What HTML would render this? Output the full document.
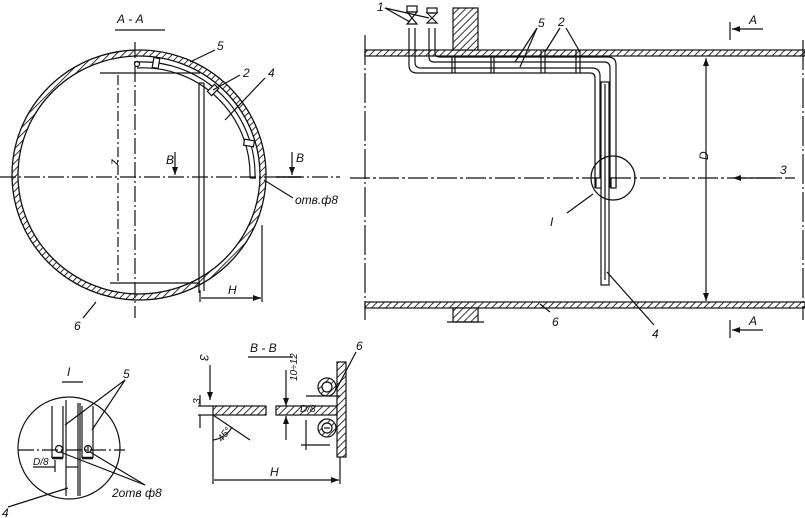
<!DOCTYPE html>
<html><head><meta charset="utf-8"><style>
html,body{margin:0;padding:0;background:#fff;}
svg{display:block;}
text{font-family:"Liberation Sans",sans-serif;font-style:italic;font-size:12px;fill:#111;}
</style></head><body>
<svg width="805" height="518" viewBox="0 0 805 518" xmlns="http://www.w3.org/2000/svg">
<defs>
<pattern id="h" width="5" height="5" patternUnits="userSpaceOnUse" patternTransform="rotate(45)">
<rect width="5" height="5" fill="#fff"/><line x1="0" y1="0" x2="0" y2="5" stroke="#111" stroke-width="1.7"/>
</pattern>
<marker id="ar" markerWidth="8" markerHeight="6" refX="8" refY="3" orient="auto" markerUnits="userSpaceOnUse"><path d="M0,0 L8,3 L0,6 Z" fill="#111"/></marker>
</defs>
<g stroke="#111" fill="none" stroke-width="1.2">
<!-- ===== A-A section ===== -->
<text x="117" y="23" stroke="none">А - А</text>
<line x1="115" y1="30" x2="165" y2="30"/>
<ellipse cx="139" cy="175" rx="127" ry="125" fill="url(#h)" stroke-width="1.3"/>
<ellipse cx="139" cy="175" rx="121" ry="119" fill="#fff" stroke-width="1.3"/>
<path d="M137,62 A113,113 0 0 1 255,178"/>
<path d="M137,68 A107,107 0 0 1 250,178"/>
<line x1="250" y1="178" x2="256" y2="178"/>
<circle cx="137" cy="64" r="2.5"/>
<rect x="153" y="58" width="6" height="10" transform="rotate(10 156 63)" fill="#fff"/>
<rect x="210" y="85" width="6" height="10" transform="rotate(45 213 90)" fill="#fff"/>
<rect x="244" y="140" width="10" height="6" transform="rotate(10 249 143)" fill="#fff"/>
<line x1="199" y1="83" x2="199" y2="293"/>
<line x1="204" y1="83" x2="204" y2="291"/>
<line x1="199" y1="83" x2="204" y2="83"/>
<line x1="0" y1="177" x2="340" y2="177" stroke-dasharray="16,3,2,3"/>
<line x1="135" y1="42" x2="135" y2="318" stroke-dasharray="16,3,2,3"/>
<line x1="100" y1="73" x2="200" y2="73"/>
<line x1="110" y1="283" x2="200" y2="283"/>
<line x1="118" y1="75" x2="118" y2="281" stroke-dasharray="10,3,2,3"/>
<text x="112" y="165" stroke="none" transform="rotate(-90 115 162)">z</text>
<line x1="200" y1="290" x2="200" y2="302"/>
<line x1="262" y1="225" x2="262" y2="302"/>
<line x1="201" y1="298" x2="261" y2="298" marker-end="url(#ar)"/>
<text x="228" y="294" stroke="none">H</text>
<line x1="175" y1="152" x2="175" y2="175" marker-end="url(#ar)"/>
<text x="166" y="164" stroke="none">B</text>
<line x1="292" y1="152" x2="292" y2="175" marker-end="url(#ar)"/>
<line x1="276" y1="177" x2="301" y2="177" stroke-width="1.5"/>
<text x="296" y="162" stroke="none">B</text>
<line x1="190" y1="62" x2="215" y2="50"/><text x="217" y="50" stroke="none">5</text>
<line x1="213" y1="90" x2="240" y2="75"/><text x="243" y="77" stroke="none">2</text>
<line x1="225" y1="120" x2="265" y2="78"/><text x="268" y="77" stroke="none">4</text>
<line x1="264" y1="180" x2="293" y2="198"/><text x="295" y="204" stroke="none">отв.ф8</text>
<line x1="83" y1="318" x2="96" y2="302"/><text x="74" y="330" stroke="none">6</text>

<!-- ===== Longitudinal view ===== -->
<rect x="365" y="50" width="440" height="6" fill="url(#h)"/>
<rect x="365" y="302" width="440" height="6" fill="url(#h)"/>
<line x1="365" y1="35" x2="365" y2="320" stroke-dasharray="30,3,2,3"/>
<line x1="803" y1="40" x2="803" y2="320" stroke-dasharray="30,3,2,3"/>
<line x1="350" y1="178" x2="795" y2="178" stroke-dasharray="20,3,3,3"/>
<rect x="453" y="8" width="25" height="42" fill="url(#h)"/>
<rect x="453" y="308" width="25" height="14" fill="url(#h)"/>
<line x1="447" y1="322" x2="484" y2="322"/>
<path d="M409,28 V65 Q409,73 417,73 H590 Q595,73 595,78 V188"/>
<path d="M415,28 V62 Q415,68 421,68 H592 Q600,68 600,76 V188"/>
<path d="M429,28 V57 Q429,62 434,62 H604 Q610,62 610,68 V188"/>
<path d="M435,28 V53 Q435,57 440,57 H608 Q616,57 616,65 V188"/>
<rect x="601" y="82" width="8" height="203" fill="#fff"/>
<line x1="605" y1="84" x2="605" y2="280"/>
<rect x="596" y="178" width="5" height="10" fill="#fff"/>
<rect x="611" y="178" width="5" height="10" fill="#fff"/>
<line x1="452" y1="57" x2="452" y2="73"/><line x1="455" y1="57" x2="455" y2="73"/>
<line x1="491" y1="57" x2="491" y2="73"/><line x1="494" y1="57" x2="494" y2="73"/>
<line x1="541" y1="50" x2="541" y2="73"/><line x1="545" y1="50" x2="545" y2="73"/>
<line x1="576" y1="50" x2="576" y2="73"/><line x1="580" y1="50" x2="580" y2="73"/>
<g fill="#fff">
<rect x="407" y="6" width="10" height="6"/><path d="M407,12 L417,24 L407,24 L417,12 Z"/>
<rect x="427" y="8" width="10" height="5"/><path d="M427,13 L437,23 L427,23 L437,13 Z"/>
</g>
<circle cx="613" cy="178" r="22"/>
<line x1="706" y1="68" x2="706" y2="58" marker-end="url(#ar)"/>
<line x1="706" y1="68" x2="706" y2="301" marker-end="url(#ar)"/>
<text x="700" y="160" stroke="none" transform="rotate(-90 704 156)">D</text>
<line x1="780" y1="178" x2="733" y2="178" marker-end="url(#ar)" stroke-width="1.3"/>
<text x="780" y="174" stroke="none">3</text>
<line x1="730" y1="22" x2="730" y2="40"/><line x1="763" y1="29" x2="732" y2="29" marker-end="url(#ar)"/>
<text x="749" y="24" stroke="none">A</text>
<line x1="730" y1="320" x2="730" y2="338"/><line x1="763" y1="330" x2="732" y2="330" marker-end="url(#ar)"/>
<text x="749" y="325" stroke="none">A</text>
<text x="377" y="11" stroke="none">1</text>
<line x1="385" y1="8" x2="410" y2="22"/><line x1="385" y1="8" x2="429" y2="18"/>
<text x="538" y="27" stroke="none">5</text>
<line x1="537" y1="28" x2="515" y2="62"/><line x1="537" y1="28" x2="520" y2="67"/>
<text x="558" y="26" stroke="none">2</text>
<line x1="560" y1="28" x2="545" y2="52"/><line x1="566" y1="28" x2="580" y2="52"/>
<line x1="567" y1="213" x2="593" y2="194"/><text x="550" y="226" stroke="none">I</text>
<line x1="607" y1="272" x2="654" y2="325"/><text x="652" y="338" stroke="none">4</text>
<line x1="550" y1="312" x2="540" y2="304"/><text x="552" y="326" stroke="none">6</text>

<!-- ===== Detail I ===== -->
<text x="67" y="376" stroke="none">I</text>
<line x1="62" y1="382" x2="83" y2="382"/>
<circle cx="69" cy="448" r="51"/>
<line x1="18" y1="450" x2="125" y2="450" stroke-dasharray="16,3,2,3"/>
<line x1="52" y1="406" x2="52" y2="458"/><line x1="63" y1="406" x2="63" y2="458"/>
<line x1="52" y1="458" x2="63" y2="458" stroke-width="2.5"/>
<line x1="82" y1="406" x2="82" y2="458"/><line x1="93" y1="406" x2="93" y2="458"/>
<line x1="82" y1="458" x2="93" y2="458" stroke-width="2.5"/>
<line x1="66" y1="400" x2="66" y2="496"/><line x1="78" y1="403" x2="78" y2="496"/><line x1="80" y1="403" x2="80" y2="496"/>
<circle cx="59" cy="449" r="3.5"/><circle cx="88" cy="449" r="3.5"/>
<line x1="88" y1="446" x2="88" y2="452"/>
<text x="123" y="378" stroke="none">5</text>
<line x1="125" y1="380" x2="65" y2="425"/><line x1="125" y1="380" x2="92" y2="430"/>
<line x1="60" y1="452" x2="145" y2="485"/><line x1="90" y1="452" x2="145" y2="485"/>
<text x="112" y="497" stroke="none">2отв ф8</text>
<line x1="33" y1="467" x2="55" y2="467"/><line x1="55" y1="460" x2="55" y2="472"/>
<line x1="66" y1="467" x2="78" y2="467"/>
<text x="33" y="465" stroke="none" style="font-size:10px">D/8</text>
<line x1="8" y1="507" x2="68" y2="488"/><text x="2" y="517" stroke="none">4</text>

<!-- ===== B-B ===== -->
<text x="250" y="352" stroke="none">B - B</text>
<line x1="248" y1="357" x2="293" y2="357"/>
<line x1="210" y1="365" x2="210" y2="400" marker-end="url(#ar)"/>
<text x="200" y="362" stroke="none" transform="rotate(90 204 358)">3</text>
<rect x="213" y="406" width="53" height="9" fill="url(#h)"/>
<rect x="276" y="406" width="61" height="9" fill="url(#h)"/>
<rect x="337" y="362" width="9" height="95" fill="url(#h)"/>
<circle cx="327" cy="387" r="9" fill="url(#h)"/><circle cx="327" cy="387" r="5" fill="#fff"/>
<circle cx="327" cy="428" r="9" fill="url(#h)"/><circle cx="327" cy="428" r="5" fill="#fff"/>
<line x1="324" y1="428" x2="330" y2="428"/>
<line x1="198" y1="406" x2="213" y2="406"/><line x1="198" y1="415" x2="213" y2="415"/>
<line x1="200" y1="395" x2="200" y2="406"/><line x1="200" y1="415" x2="200" y2="428"/>
<text x="192" y="404" stroke="none" style="font-size:10px" transform="rotate(-90 196 400)">3</text>
<line x1="213" y1="415" x2="250" y2="440"/>
<path d="M213,440 A25,25 0 0 0 232,427"/>
<text x="217" y="440" stroke="none" style="font-size:10px" transform="rotate(-50 222 436)">45°</text>
<line x1="213" y1="415" x2="213" y2="484"/>
<line x1="340" y1="457" x2="340" y2="484"/>
<line x1="214" y1="480" x2="339" y2="480" marker-end="url(#ar)"/>
<text x="270" y="476" stroke="none">H</text>
<line x1="286" y1="370" x2="286" y2="406" marker-end="url(#ar)"/>
<line x1="286" y1="440" x2="286" y2="416" marker-end="url(#ar)"/>
<text x="288" y="380" stroke="none" style="font-size:10px" transform="rotate(-90 293 376)">10÷12</text>
<line x1="306" y1="396" x2="340" y2="396"/>
<line x1="306" y1="420" x2="306" y2="450"/>
<line x1="301" y1="445" x2="330" y2="445"/>
<text x="300" y="412" stroke="none" style="font-size:10px">D/8</text>
<line x1="336" y1="390" x2="356" y2="352"/><text x="356" y="350" stroke="none">6</text>
</g>
</svg>
</body></html>
